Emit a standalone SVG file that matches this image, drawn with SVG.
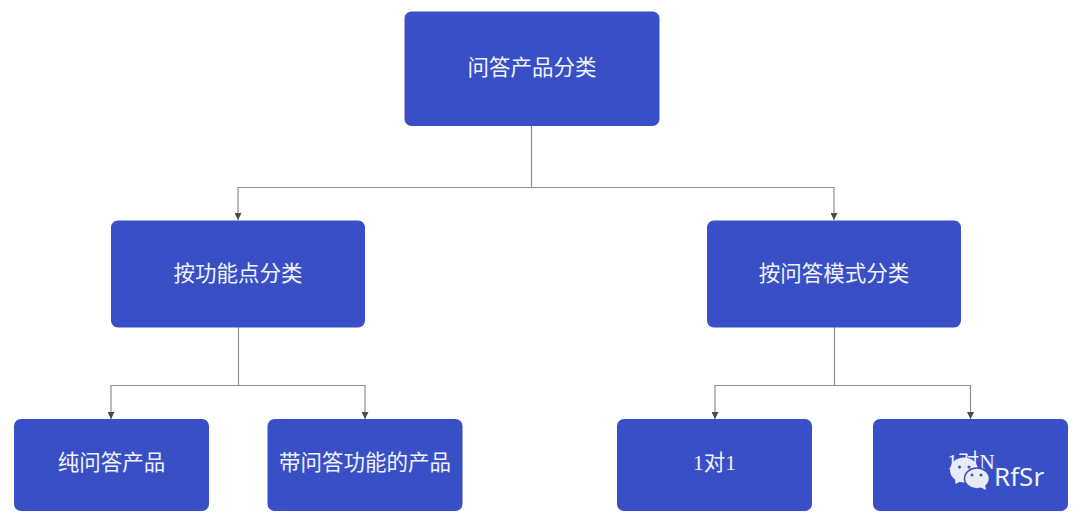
<svg xmlns="http://www.w3.org/2000/svg" width="1080" height="522" viewBox="0 0 1080 522">
<style>
.box{fill:#384fc6}
.t{fill:#f1f3fb;font-family:"Liberation Serif","Noto Sans CJK SC",serif;text-anchor:middle;font-size:21.5px}
.c{fill:none;stroke:#8f8f8a;stroke-width:1.2}
.wm{fill:#e8ecf8}
.eye{fill:#384fc6}
</style>
<defs>
<marker id="a" markerUnits="userSpaceOnUse" markerWidth="8" markerHeight="7" refX="7" refY="3.5" orient="auto"><path d="M0 0L7 3.5L0 7z" fill="#4a4a46"/></marker>
</defs>
<rect width="1080" height="522" fill="#fff"/>
<g id="connectors">
<path class="c" d="M531.500 126V187.500H238V220" marker-end="url(#a)"/>
<path class="c" d="M531.500 187.500H834V220" marker-end="url(#a)"/>
<path class="c" d="M238.500 327V385.500H111V419" marker-end="url(#a)"/>
<path class="c" d="M238.500 385.500H365V419" marker-end="url(#a)"/>
<path class="c" d="M834.500 327V385.500H715V419" marker-end="url(#a)"/>
<path class="c" d="M834.500 385.500H970.500V419" marker-end="url(#a)"/>
</g>
<g id="n-root"><rect class="box" x="404.500" y="11.500" width="255" height="114.500" rx="7"/><text class="t" x="532" y="75">问答产品分类</text></g>
<g id="n-func"><rect class="box" x="111" y="220.500" width="254" height="107" rx="7"/><text class="t" x="238" y="281">按功能点分类</text></g>
<g id="n-mode"><rect class="box" x="707" y="220.500" width="254" height="107" rx="7"/><text class="t" x="834" y="281">按问答模式分类</text></g>
<g id="n-pure"><rect class="box" x="14" y="419" width="195" height="92" rx="7"/><text class="t" x="111.500" y="470">纯问答产品</text></g>
<g id="n-with"><rect class="box" x="267.500" y="419" width="195" height="92" rx="7"/><text class="t" x="365" y="470">带问答功能的产品</text></g>
<g id="n-11"><rect class="box" x="617" y="419" width="195" height="92" rx="7"/><text class="t" x="714.500" y="470">1对1</text></g>
<g id="n-1n"><rect class="box" x="873" y="419" width="195" height="92" rx="7"/><text class="t" x="971" y="469">1对N</text></g>
<g id="watermark">
<ellipse class="wm" cx="964" cy="470" rx="14" ry="12.500"/>
<path class="wm" d="M955 478L955.500 484L963 480z"/>
<ellipse class="wm" cx="977" cy="478.500" rx="12.500" ry="10.500" stroke="#384fc6" stroke-width="1.500"/>
<path class="wm" d="M980 487L986 490L985 484z"/>
<circle class="eye" cx="959.500" cy="467" r="1.500"/><circle class="eye" cx="969" cy="467" r="1.500"/>
<circle class="eye" cx="972" cy="475" r="1.500"/><circle class="eye" cx="981" cy="475" r="1.500"/>
<text x="994" y="486" fill="#eef1fb" font-family="'Noto Sans','Liberation Sans',sans-serif" font-size="26">RfSr</text>
</g>
</svg>
